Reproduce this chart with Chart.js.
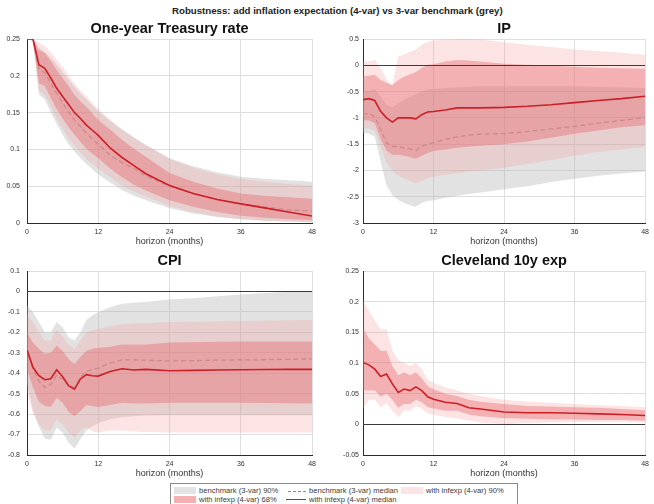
<!DOCTYPE html>
<html lang="en">
<head>
<meta charset="UTF-8">
<title>Robustness: add inflation expectation (4-var) vs 3-var benchmark (grey)</title>
<script src="https://cdn.jsdelivr.net/npm/chart.js"></script>
<style>
  body { margin: 0; width: 654px; height: 504px; background: #fff; position: relative; overflow: hidden;
         font-family: "Liberation Sans", Arial, sans-serif; }
  canvas { position: absolute; }
  #tituloGeral { position: absolute; left: 172px; top: 5px; white-space: nowrap; font-weight: bold;
                 font-size: 9.5px; color: #222; transform-origin: 0 0; }
  #legenda { position: absolute; left: 170px; top: 483px; width: 346px; height: 24px; border: 1px solid #8a8a8a; background: #fff; }
  .item { position: absolute; font-size: 7.6px; color: #3a3a3a; white-space: nowrap; line-height: 9px; }
  .caixa { position: absolute; width: 22px; height: 7px; }
  .traco { position: absolute; height: 0; }
</style>
</head>
<body>

<div id="tituloGeral">Robustness: add inflation expectation (4-var) vs 3-var benchmark (grey)</div>

<canvas id="g1" width="321" height="231" style="left:0px;top:18px"></canvas>
<canvas id="g2" width="321" height="231" style="left:333px;top:18px"></canvas>
<canvas id="g3" width="321" height="231" style="left:0px;top:250px"></canvas>
<canvas id="g4" width="321" height="231" style="left:333px;top:250px"></canvas>

<div id="legenda"></div>

<script>
const H = [0,1,2,3,4,5,6,7,8,9,10,11,12,14,16,18,20,24,28,32,36,40,44,48];
const xTicks = [0, 12, 24, 36, 48];

// --- One-year Treasury rate
const trsBenchHi  = [0.25,0.25,0.238,0.232,0.225,0.215,0.205,0.195,0.185,0.176,0.168,0.16,0.152,0.139,0.127,0.116,0.106,0.088,0.077,0.069,0.063,0.06,0.058,0.056];
const trsBenchLo  = [0.25,0.247,0.175,0.168,0.15,0.135,0.12,0.107,0.097,0.088,0.08,0.073,0.066,0.055,0.045,0.037,0.031,0.02,0.013,0.008,0.005,0.003,0.002,0.001];
const trsBenchMed = [0.25,0.25,0.21,0.204,0.19,0.176,0.163,0.151,0.14,0.131,0.122,0.114,0.107,0.092,0.082,0.074,0.064,0.05,0.04,0.032,0.026,0.022,0.018,0.016];
const trsInf90Hi  = [0.25,0.25,0.245,0.24,0.232,0.222,0.212,0.2,0.19,0.18,0.172,0.163,0.155,0.14,0.127,0.116,0.106,0.087,0.075,0.066,0.06,0.056,0.053,0.051];
const trsInf90Lo  = [0.25,0.248,0.18,0.174,0.158,0.142,0.128,0.115,0.105,0.096,0.087,0.08,0.074,0.062,0.051,0.043,0.036,0.023,0.015,0.009,0.005,0.003,0.002,0.001];
const trsInf68Hi  = [0.25,0.25,0.235,0.231,0.22,0.208,0.197,0.186,0.174,0.165,0.158,0.149,0.14,0.127,0.113,0.101,0.09,0.068,0.056,0.047,0.04,0.037,0.035,0.033];
const trsInf68Lo  = [0.25,0.249,0.19,0.186,0.17,0.155,0.142,0.13,0.12,0.11,0.101,0.094,0.088,0.074,0.062,0.052,0.044,0.031,0.022,0.015,0.01,0.007,0.005,0.004];
const trsInfMed   = [0.25,0.25,0.215,0.21,0.197,0.183,0.172,0.161,0.15,0.142,0.133,0.126,0.119,0.102,0.089,0.078,0.067,0.051,0.04,0.032,0.026,0.0205,0.015,0.0095];
const trsYTicks   = [0, 0.05, 0.1, 0.15, 0.2, 0.25];

// --- IP
const ipBenchHi  = [-0.5,-0.48,-0.45,-0.6,-0.75,-0.8,-0.72,-0.65,-0.6,-0.55,-0.5,-0.46,-0.45,-0.43,-0.42,-0.41,-0.4,-0.4,-0.4,-0.4,-0.4,-0.41,-0.42,-0.43];
const ipBenchLo  = [-1.29,-1.3,-1.36,-1.83,-2.28,-2.47,-2.56,-2.62,-2.66,-2.69,-2.62,-2.58,-2.57,-2.52,-2.48,-2.45,-2.42,-2.36,-2.3,-2.22,-2.16,-2.1,-2.06,-2.02];
const ipBenchMed = [-0.94,-0.91,-0.98,-1.22,-1.48,-1.54,-1.55,-1.57,-1.59,-1.62,-1.54,-1.5,-1.47,-1.41,-1.36,-1.33,-1.31,-1.3,-1.26,-1.21,-1.16,-1.1,-1.05,-0.99];
const ipInf90Hi  = [0.07,0.07,0.105,-0.05,-0.27,-0.37,0.17,0.2,0.26,0.3,0.39,0.45,0.47,0.49,0.5,0.5,0.49,0.44,0.39,0.35,0.3,0.27,0.24,0.2];
const ipInf90Lo  = [-1.2,-1.2,-1.25,-1.55,-1.85,-2.0,-2.1,-2.15,-2.2,-2.25,-2.2,-2.15,-2.12,-2.08,-2.05,-2.02,-2.0,-1.95,-1.88,-1.8,-1.72,-1.65,-1.6,-1.55];
const ipInf68Hi  = [-0.21,-0.2,-0.18,-0.28,-0.33,-0.38,-0.28,-0.22,-0.17,-0.13,-0.05,0.01,0.02,0.07,0.1,0.09,0.07,0.03,0.01,-0.01,-0.03,-0.045,-0.055,-0.065];
const ipInf68Lo  = [-1.04,-1.05,-1.1,-1.4,-1.62,-1.7,-1.7,-1.72,-1.75,-1.78,-1.72,-1.67,-1.63,-1.6,-1.57,-1.55,-1.53,-1.5,-1.45,-1.38,-1.3,-1.24,-1.18,-1.14];
const ipInfMed   = [-0.654,-0.635,-0.67,-0.876,-1.0,-1.08,-1.0,-1.0,-1.0,-1.02,-0.94,-0.89,-0.88,-0.85,-0.81,-0.81,-0.81,-0.8,-0.78,-0.75,-0.71,-0.67,-0.635,-0.59];
const ipYTicks   = [-3, -2.5, -2, -1.5, -1, -0.5, 0, 0.5];

// --- CPI
const cpiBenchHi  = [-0.068,-0.1,-0.15,-0.2,-0.2,-0.15,-0.175,-0.224,-0.24,-0.2,-0.14,-0.118,-0.1,-0.077,-0.06,-0.055,-0.052,-0.04,-0.033,-0.024,-0.015,-0.008,-0.001,0.002];
const cpiBenchLo  = [-0.45,-0.58,-0.66,-0.72,-0.725,-0.665,-0.69,-0.74,-0.77,-0.72,-0.68,-0.66,-0.645,-0.625,-0.615,-0.61,-0.607,-0.605,-0.605,-0.605,-0.605,-0.605,-0.605,-0.605];
const cpiBenchMed = [-0.28,-0.38,-0.437,-0.47,-0.455,-0.41,-0.43,-0.46,-0.47,-0.42,-0.39,-0.382,-0.375,-0.35,-0.335,-0.335,-0.336,-0.34,-0.338,-0.336,-0.335,-0.334,-0.332,-0.33];
const cpiInf90Hi  = [-0.117,-0.15,-0.2,-0.24,-0.24,-0.19,-0.22,-0.26,-0.28,-0.24,-0.2,-0.19,-0.185,-0.17,-0.16,-0.157,-0.155,-0.15,-0.148,-0.146,-0.145,-0.143,-0.141,-0.14];
const cpiInf90Lo  = [-0.49,-0.6,-0.65,-0.68,-0.68,-0.625,-0.65,-0.69,-0.715,-0.68,-0.665,-0.685,-0.69,-0.68,-0.68,-0.685,-0.687,-0.69,-0.69,-0.69,-0.69,-0.69,-0.69,-0.69];
const cpiInf68Hi  = [-0.2,-0.25,-0.28,-0.305,-0.3,-0.265,-0.29,-0.33,-0.355,-0.32,-0.29,-0.28,-0.275,-0.27,-0.26,-0.26,-0.26,-0.25,-0.248,-0.246,-0.245,-0.245,-0.245,-0.245];
const cpiInf68Lo  = [-0.38,-0.47,-0.54,-0.56,-0.565,-0.52,-0.545,-0.59,-0.61,-0.585,-0.555,-0.56,-0.565,-0.555,-0.545,-0.548,-0.548,-0.545,-0.545,-0.545,-0.545,-0.546,-0.547,-0.548];
const cpiInfMed   = [-0.285,-0.371,-0.412,-0.432,-0.427,-0.383,-0.417,-0.461,-0.478,-0.428,-0.407,-0.412,-0.414,-0.392,-0.378,-0.384,-0.381,-0.388,-0.386,-0.384,-0.383,-0.382,-0.381,-0.381];
const cpiYTicks   = [-0.8, -0.7, -0.6, -0.5, -0.4, -0.3, -0.2, -0.1, 0, 0.1];

// --- Cleveland 10y exp (only in the 4-var model)
const cleInf90Hi = [0.202,0.185,0.17,0.155,0.155,0.12,0.105,0.1,0.095,0.1,0.09,0.073,0.068,0.06,0.055,0.05,0.046,0.04,0.037,0.035,0.033,0.031,0.03,0.028];
const cleInf90Lo = [0.025,0.04,0.04,0.027,0.035,0.022,0.012,0.022,0.022,0.03,0.025,0.018,0.016,0.012,0.01,0.006,0.003,0.0,0.002,0.003,0.004,0.004,0.004,0.003];
const cleInf68Hi = [0.157,0.14,0.13,0.12,0.12,0.095,0.08,0.085,0.08,0.085,0.075,0.062,0.057,0.05,0.046,0.04,0.037,0.033,0.03,0.029,0.028,0.027,0.025,0.023];
const cleInf68Lo = [0.055,0.055,0.055,0.045,0.05,0.04,0.027,0.033,0.033,0.04,0.036,0.028,0.026,0.022,0.022,0.016,0.013,0.01,0.009,0.008,0.008,0.007,0.007,0.006];
const cleInfMed  = [0.101,0.097,0.09,0.078,0.082,0.066,0.052,0.0575,0.055,0.061,0.055,0.045,0.041,0.036,0.034,0.027,0.025,0.02,0.019,0.019,0.018,0.017,0.016,0.0144];
const cleYTicks  = [-0.05, 0, 0.05, 0.1, 0.15, 0.2, 0.25];

// colours
const corCinza   = 'rgba(180,180,180,0.38)';
const corRosa90  = 'rgba(245,150,150,0.26)';
const corRosa68  = 'rgba(232,100,105,0.4)';
const corMediana = '#cc1f26';
const corBench   = '#a5a5a5';
const fonte = '"Liberation Sans", Arial, sans-serif';

function pares(valores) {
  return H.map((h, i) => ({ x: h, y: valores[i] }));
}

// band = two invisible lines, the upper one filled down to the lower one
function faixa(lo, hi, cor, ordem) {
  const base = { pointRadius: 0, borderWidth: 0, borderColor: 'rgba(0,0,0,0)', order: ordem };
  return [
    Object.assign({}, base, { data: pares(lo), fill: false }),
    Object.assign({}, base, { data: pares(hi), fill: '-1', backgroundColor: cor })
  ];
}

// black line at zero drawn over the bands
const linhaZero = {
  id: 'linhaZero',
  afterDatasetsDraw(chart) {
    const y = chart.scales.y;
    if (y.min >= 0) return;
    const py = Math.round(y.getPixelForValue(0)) + 0.5;
    const ctx = chart.ctx;
    ctx.save();
    ctx.strokeStyle = '#3c3c3c';
    ctx.lineWidth = 1.1;
    ctx.beginPath();
    ctx.moveTo(chart.chartArea.left, py);
    ctx.lineTo(chart.chartArea.right, py);
    ctx.stroke();
    ctx.restore();
  }
};

function criarPainel(id, titulo, yTicks, series, larguraY, padY, padDir) {
  let datasets = [];
  if (series.benchLo) {
    datasets = datasets.concat(faixa(series.benchLo, series.benchHi, corCinza, 5));
    datasets.push({ data: pares(series.benchMed), borderColor: corBench, borderWidth: 1.3,
                    borderDash: [5, 3], pointRadius: 0, fill: false, order: 4 });
  }
  datasets = datasets.concat(faixa(series.inf90Lo, series.inf90Hi, corRosa90, 3));
  datasets = datasets.concat(faixa(series.inf68Lo, series.inf68Hi, corRosa68, 2));
  datasets.push({ data: pares(series.infMed), borderColor: corMediana, borderWidth: 1.6,
                  pointRadius: 0, fill: false, order: 1 });

  const fonteTick = { family: fonte, size: 7 };

  return new Chart(document.getElementById(id), {
    type: 'line',
    data: { datasets: datasets },
    options: {
      responsive: false,
      animation: false,
      layout: { padding: { right: padDir, top: 0, bottom: 0, left: 0 } },
      elements: { line: { tension: 0 } },
      plugins: {
        legend: { display: false },
        tooltip: { enabled: false },
        title: { display: true, text: titulo, color: '#111', fullSize: false,
                 font: { family: fonte, size: 14.5, weight: 'bold', lineHeight: 1.2 },
                 padding: { top: 2, bottom: 1.6 } }
      },
      scales: {
        x: {
          type: 'linear', min: 0, max: 48,
          afterBuildTicks: s => { s.ticks = xTicks.map(v => ({ value: v })); },
          afterFit: s => { s.height = 26; },
          ticks: { font: fonteTick, color: '#333', padding: 5, maxRotation: 0, autoSkip: false },
          grid: { color: '#dedede', drawTicks: false },
          border: { color: '#2a2a2a', width: 1 },
          title: { display: true, text: 'horizon (months)', color: '#333',
                   font: { family: fonte, size: 9 }, padding: { top: 0, bottom: 2 } }
        },
        y: {
          min: yTicks[0], max: yTicks[yTicks.length - 1],
          afterBuildTicks: s => { s.ticks = yTicks.map(v => ({ value: v })); },
          afterFit: s => { s.width = larguraY; },
          ticks: { font: fonteTick, color: '#333', padding: padY, callback: v => String(v) },
          grid: { color: '#dedede', drawTicks: false },
          border: { color: '#2a2a2a', width: 1 }
        }
      }
    },
    plugins: [linhaZero]
  });
}

criarPainel('g1', 'One-year Treasury rate', trsYTicks, {
  benchLo: trsBenchLo, benchHi: trsBenchHi, benchMed: trsBenchMed,
  inf90Lo: trsInf90Lo, inf90Hi: trsInf90Hi, inf68Lo: trsInf68Lo, inf68Hi: trsInf68Hi, infMed: trsInfMed
}, 27, 7, 8);

criarPainel('g2', 'IP', ipYTicks, {
  benchLo: ipBenchLo, benchHi: ipBenchHi, benchMed: ipBenchMed,
  inf90Lo: ipInf90Lo, inf90Hi: ipInf90Hi, inf68Lo: ipInf68Lo, inf68Hi: ipInf68Hi, infMed: ipInfMed
}, 30, 4, 5);

criarPainel('g3', 'CPI', cpiYTicks, {
  benchLo: cpiBenchLo, benchHi: cpiBenchHi, benchMed: cpiBenchMed,
  inf90Lo: cpiInf90Lo, inf90Hi: cpiInf90Hi, inf68Lo: cpiInf68Lo, inf68Hi: cpiInf68Hi, infMed: cpiInfMed
}, 27, 7, 8);

criarPainel('g4', 'Cleveland 10y exp', cleYTicks, {
  inf90Lo: cleInf90Lo, inf90Hi: cleInf90Hi, inf68Lo: cleInf68Lo, inf68Hi: cleInf68Hi, infMed: cleInfMed
}, 30, 4, 5);

// legend (plain html, under the panels)
const itensLegenda = [
  { tipo: 'caixa', cor: 'rgb(227,227,227)', x: 3,   y: 3,  largura: 22, texto: 'benchmark (3-var) 90%' },
  { tipo: 'traco', cor: '#8a8a8a', estilo: 'dashed', x: 117, y: 6.5, largura: 18, texto: 'benchmark (3-var) median' },
  { tipo: 'caixa', cor: 'rgb(252,228,228)', x: 230, y: 3,  largura: 22, texto: 'with infexp (4-var) 90%' },
  { tipo: 'caixa', cor: 'rgb(244,177,179)', x: 3,   y: 12, largura: 22, texto: 'with infexp (4-var) 68%' },
  { tipo: 'traco', cor: corMediana, estilo: 'solid', x: 115, y: 15, largura: 20, texto: 'with infexp (4-var) median' }
];

const legenda = document.getElementById('legenda');
itensLegenda.forEach(function (item) {
  const marca = document.createElement('div');
  marca.className = item.tipo;
  marca.style.left = item.x + 'px';
  marca.style.top = item.y + 'px';
  marca.style.width = item.largura + 'px';
  if (item.tipo === 'caixa') {
    marca.style.background = item.cor;
  } else {
    marca.style.borderTop = '1.5px ' + item.estilo + ' ' + item.cor;
  }
  legenda.appendChild(marca);

  const texto = document.createElement('div');
  texto.className = 'item';
  texto.textContent = item.texto;
  texto.style.left = (item.x + item.largura + 3) + 'px';
  texto.style.top = (item.y - (item.tipo === 'caixa' ? 1 : 4.5)) + 'px';
  legenda.appendChild(texto);
});

// squeeze the main title into the width it has in the original
const tituloGeral = document.getElementById('tituloGeral');
const escala = 331 / tituloGeral.offsetWidth;
tituloGeral.style.transform = 'scaleX(' + escala + ')';
</script>
</body>
</html>
